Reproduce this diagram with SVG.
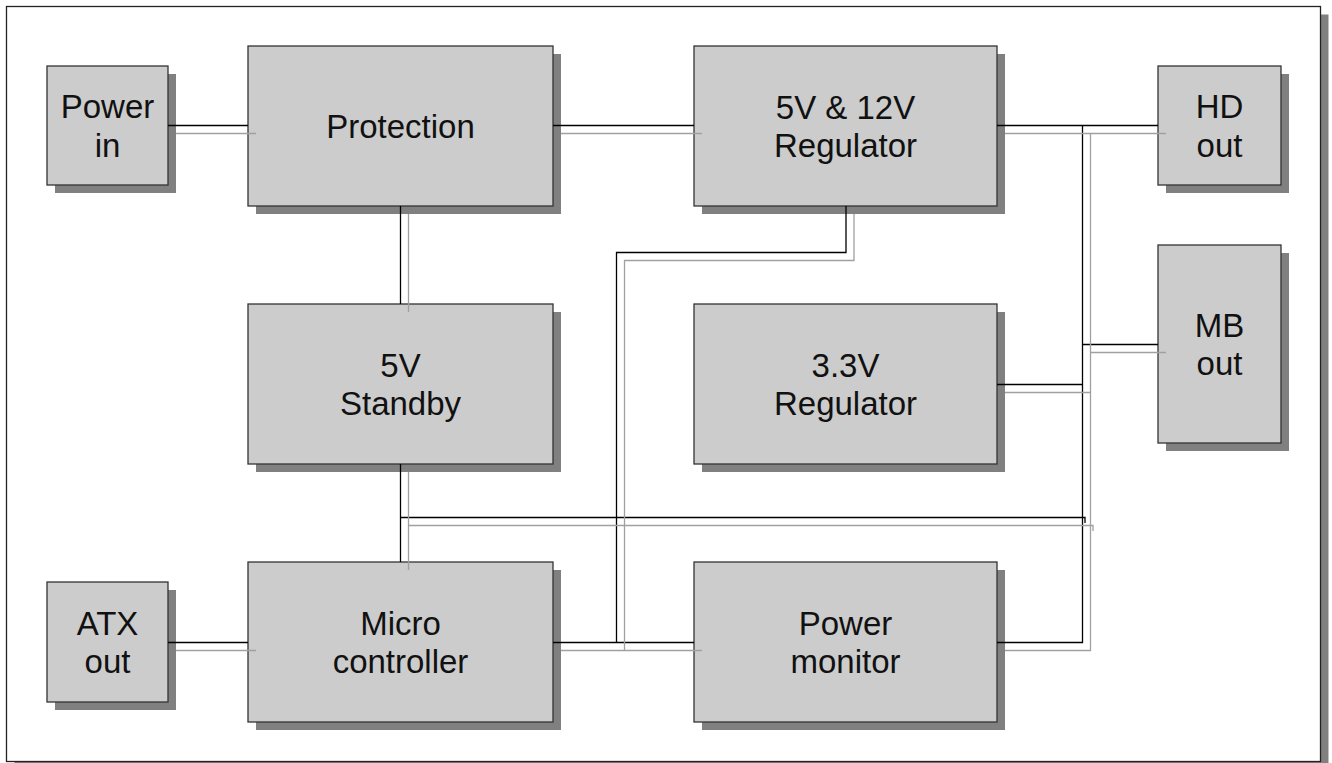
<svg xmlns="http://www.w3.org/2000/svg" width="1332" height="763" viewBox="0 0 1332 763">
<style>
.sh{fill:#808080;stroke:none}
.bx{fill:#cccccc;stroke:#333333;stroke-width:1.3}
.t{font-family:"Liberation Sans",Arial,sans-serif;font-size:33px;fill:#111;text-anchor:middle}
.ln{fill:none;stroke:#000;stroke-width:1.3}
.ls{fill:none;stroke:#a0a0a0;stroke-width:1.3}
</style>
<rect x="0" y="0" width="1332" height="763" fill="#fff"/>
<rect x="14.5" y="14.5" width="1314" height="755" class="sh"/>
<rect x="6.5" y="6.5" width="1314" height="755" fill="#fff" stroke="#222" stroke-width="1.3"/>

<g id="power-in"><rect x="55" y="74" width="121" height="119" class="sh"/><rect x="47" y="66" width="121" height="119" class="bx"/><text class="t" x="107.5" y="118">Power</text><text class="t" x="107.5" y="157">in</text></g>
<g id="protection"><rect x="256" y="54" width="305" height="160" class="sh"/><rect x="248" y="46" width="305" height="160" class="bx"/><text class="t" x="400.5" y="138">Protection</text></g>
<g id="reg-5v-12v"><rect x="702" y="54" width="303" height="160" class="sh"/><rect x="694" y="46" width="303" height="160" class="bx"/><text class="t" x="845.5" y="119">5V &amp; 12V</text><text class="t" x="845.5" y="157">Regulator</text></g>
<g id="hd-out"><rect x="1166" y="74" width="123" height="119" class="sh"/><rect x="1158" y="66" width="123" height="119" class="bx"/><text class="t" x="1219.5" y="118">HD</text><text class="t" x="1219.5" y="157">out</text></g>
<g id="standby-5v"><rect x="256" y="312" width="305" height="160" class="sh"/><rect x="248" y="304" width="305" height="160" class="bx"/><text class="t" x="400.5" y="377">5V</text><text class="t" x="400.5" y="415">Standby</text></g>
<g id="reg-3v3"><rect x="702" y="312" width="303" height="160" class="sh"/><rect x="694" y="304" width="303" height="160" class="bx"/><text class="t" x="845.5" y="377">3.3V</text><text class="t" x="845.5" y="415">Regulator</text></g>
<g id="mb-out"><rect x="1166" y="253" width="123" height="198" class="sh"/><rect x="1158" y="245" width="123" height="198" class="bx"/><text class="t" x="1219.5" y="337">MB</text><text class="t" x="1219.5" y="375">out</text></g>
<g id="atx-out"><rect x="55" y="590" width="121" height="120" class="sh"/><rect x="47" y="582" width="121" height="120" class="bx"/><text class="t" x="107.5" y="635">ATX</text><text class="t" x="107.5" y="673">out</text></g>
<g id="micro"><rect x="256" y="570" width="305" height="160" class="sh"/><rect x="248" y="562" width="305" height="160" class="bx"/><text class="t" x="400.5" y="635">Micro</text><text class="t" x="400.5" y="673">controller</text></g>
<g id="power-monitor"><rect x="702" y="570" width="303" height="160" class="sh"/><rect x="694" y="562" width="303" height="160" class="bx"/><text class="t" x="845.5" y="635">Power</text><text class="t" x="845.5" y="673">monitor</text></g>

<g id="connectors">
<g id="c-lines">
<path class="ln" d="M168,125.5H248"/>
<path class="ln" d="M553,125.5H694"/>
<path class="ln" d="M997,125.5H1158"/>
<path class="ln" d="M1082.5,125.5V642.5H997"/>
<path class="ln" d="M1082.5,344.5H1158"/>
<path class="ln" d="M997,384.5H1082.5"/>
<path class="ln" d="M400.5,206V304"/>
<path class="ln" d="M400.5,464V562"/>
<path class="ln" d="M400.5,517.5H1085V523"/>
<path class="ln" d="M846,206V252.5H616.5V642.5"/>
<path class="ln" d="M553,642.5H694"/>
<path class="ln" d="M168,642.5H248"/>
</g>
<g id="c-shadows">
<path class="ls" d="M176,133.5H256"/>
<path class="ls" d="M561,133.5H702"/>
<path class="ls" d="M1005,133.5H1166"/>
<path class="ls" d="M1090.5,133.5V650.5H1005"/>
<path class="ls" d="M1090.5,352.5H1166"/>
<path class="ls" d="M1005,392.5H1090.5"/>
<path class="ls" d="M408.5,214V312"/>
<path class="ls" d="M408.5,472V570"/>
<path class="ls" d="M408.5,525.5H1093V531"/>
<path class="ls" d="M854,214V260.5H624.5V650.5"/>
<path class="ls" d="M561,650.5H702"/>
<path class="ls" d="M176,650.5H256"/>
</g>
</g>
</svg>
